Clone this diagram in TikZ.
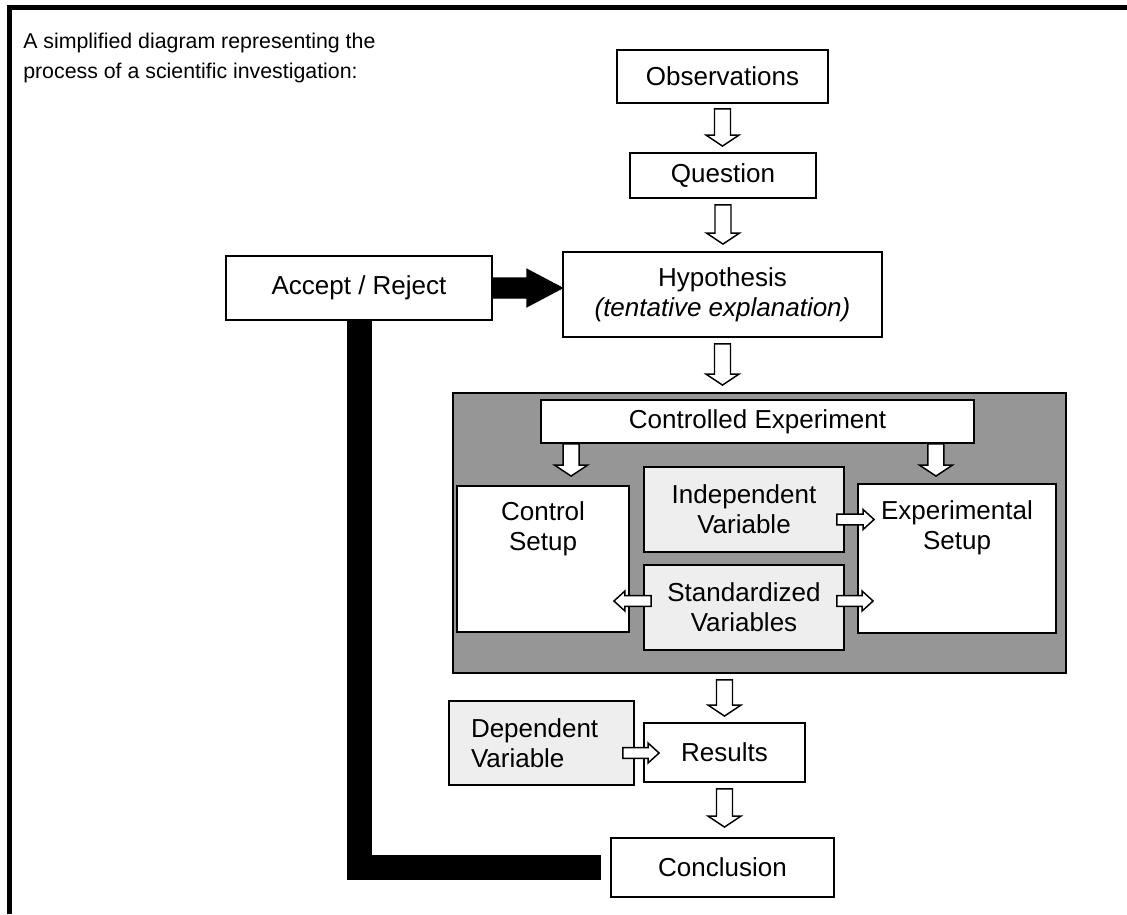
\documentclass[tikz,border=0pt]{standalone}
\usepackage{fontspec}
\setmainfont{Liberation Sans}
\usepackage{xcolor}
\usepackage{tikz}
\usetikzlibrary{calc}

\definecolor{panelgray}{HTML}{969696}
\definecolor{vargray}{HTML}{EEEEEE}
\newlength\pxu
\setlength\pxu{0.75pt}

\tikzset{
  box/.style={draw, line width=1.4pt, fill=white, align=center, inner sep=0pt},
  varbox/.style={box, fill=vargray},
  % block arrow: half shaft, half head, head length
  hollow/.style n args={3}{draw, fill=white, line width=1.1pt, line join=miter,
    to path={let \p1=($(\tikztotarget)!#3!(\tikztostart)$) in
      ($(\tikztostart)!#1!90:(\tikztotarget)$) -- ($(\p1)!#1!-90:(\tikztostart)$)
      -- ($(\p1)!#2!-90:(\tikztostart)$) -- (\tikztotarget)
      -- ($(\p1)!#2!90:(\tikztostart)$) -- ($(\p1)!#1!90:(\tikztostart)$)
      -- ($(\tikztostart)!#1!-90:(\tikztotarget)$) -- cycle}},
  bigarrow/.style={hollow={6pt}{12.4pt}{8.25pt}},
  smallarrow/.style={hollow={4.1pt}{7.5pt}{8.25pt}},
}

\begin{document}
\begin{tikzpicture}[x=0.75pt, y=-0.75pt, font=\fontsize{19.5}{22.5}\selectfont]
\useasboundingbox (0,0) rectangle (1127,914);
\draw[line width=3.75pt, line join=miter] (9.5,914) -- (9.5,7.5) -- (1127,7.5);

\node[align=left, anchor=north west, inner sep=0pt, font=\fontsize{16}{22}\selectfont] (intro) at (23,33)
  {A simplified diagram representing the\\process of a scientific investigation:};

% main chain
\node[box, minimum width=211\pxu, minimum height=53\pxu] (obs) at (722.5,76.5) {Observations};
\node[box, minimum width=186\pxu, minimum height=45\pxu] (quest) at (723,175.5) {Question};
\node[box, minimum width=319\pxu, minimum height=85\pxu] (hyp) at (722.5,294.5) {Hypothesis\\\textit{(tentative explanation)}};
\node[box, minimum width=266\pxu, minimum height=64\pxu] (accept) at (359,288) {Accept / Reject};

% experiment panel
\node[box, fill=panelgray, minimum width=613\pxu, minimum height=280\pxu] (panel) at (759.5,533) {};
\node[box, minimum width=433\pxu, minimum height=43\pxu] (ctrlexp) at (757.5,421.5) {Controlled Experiment};
\node[box, minimum width=172\pxu, minimum height=146\pxu,
  label={[align=center, anchor=north, yshift=-9pt]north:Control\\Setup}] (ctrl) at (543,559) {};
\node[varbox, minimum width=200\pxu, minimum height=85\pxu] (indep) at (744,509.5) {Independent\\Variable};
\node[varbox, minimum width=200\pxu, minimum height=85\pxu] (stand) at (744,607.5) {Standardized\\Variables};
\node[box, minimum width=198\pxu, minimum height=149\pxu,
  label={[align=center, anchor=north, yshift=-9.5pt]north:Experimental\\Setup}] (expt) at (957,558.5) {};

% results
\node[varbox, minimum width=185\pxu, minimum height=84\pxu, align=left, text width=141\pxu,
  inner xsep=22\pxu] (dep) at (541.5,743) {Dependent\\Variable};
\node[box, minimum width=161\pxu, minimum height=59\pxu] (res) at (724.5,752.5) {Results};
\node[box, minimum width=223\pxu, minimum height=59\pxu] (concl) at (722.5,867.5) {Conclusion};

% arrow ends
\coordinate (a1s) at ($(obs.south)+(0,5)$);
\coordinate (a1t) at ($(a1s |- quest.north)+(0,-6)$);
\coordinate (a2s) at ($(quest.south)+(0,6)$);
\coordinate (a2t) at ($(a2s |- hyp.north)+(0,-7)$);
\coordinate (a3s) at ($(hyp.south)+(0,6)$);
\coordinate (a3t) at ($(a3s |- panel.north)+(0,-7)$);
\coordinate (a4s) at ($(ctrlexp.south west)+(31,0)$);
\coordinate (a4t) at ($(a4s |- ctrl.north)+(0,-9)$);
\coordinate (a5s) at ($(ctrlexp.south east)+(-39,0)$);
\coordinate (a5t) at ($(a5s |- expt.north)+(0,-7)$);
\coordinate (a6s) at ($(indep.east)+(-8,10)$);
\coordinate (a6t) at ($(a6s -| expt.west)+(17,0)$);
\coordinate (a7s) at ($(stand.east)+(-8,-6.5)$);
\coordinate (a7t) at ($(a7s -| expt.west)+(16,0)$);
\coordinate (a8s) at ($(stand.west)+(8,-6.5)$);
\coordinate (a8t) at ($(a8s -| ctrl.east)+(-16,0)$);
\coordinate (a9s) at ($(panel.south -| res.north)+(0,6)$);
\coordinate (a9t) at ($(res.north)+(0,-6)$);
\coordinate (a10s) at ($(dep.east)+(-12,10)$);
\coordinate (a10t) at ($(a10s -| res.west)+(16,0)$);
\coordinate (a11s) at ($(res.south)+(0,6)$);
\coordinate (a11t) at ($(a11s |- concl.north)+(0,-10)$);
\coordinate (hypin) at (hyp.west |- accept.east);

\draw[bigarrow] (a1s) to (a1t);
\draw[bigarrow] (a2s) to (a2t);
\draw[bigarrow] (a3s) to (a3t);
\draw[bigarrow] (a4s) to (a4t);
\draw[bigarrow] (a5s) to (a5t);
\draw[smallarrow] (a6s) to (a6t);
\draw[smallarrow] (a7s) to (a7t);
\draw[smallarrow] (a8s) to (a8t);
\draw[bigarrow] (a9s) to (a9t);
\draw[smallarrow] (a10s) to (a10t);
\draw[bigarrow] (a11s) to (a11t);

% feedback loop
\draw[hollow={7.5pt}{13.9pt}{26.25pt}, fill=black] (accept.east) to (hypin);
\draw[line width=18.75pt, line join=miter, shorten >=6.75pt] (accept.south) |- (concl.west);
\end{tikzpicture}
\end{document}
